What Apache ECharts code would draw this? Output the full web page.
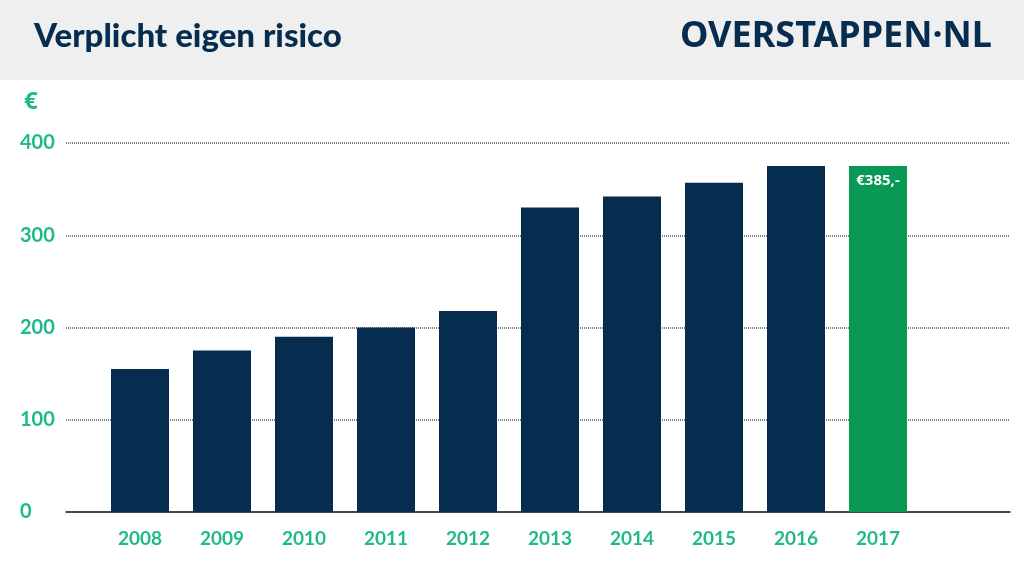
<!DOCTYPE html>
<html><head><meta charset="utf-8">
<script src="https://cdn.jsdelivr.net/npm/echarts@6/dist/echarts.min.js"></script>
<style>html,body{margin:0;padding:0;background:#fff}#c{width:1024px;height:571px}</style>
</head><body><div id="c"></div>
<script>
const years = ['2008','2009','2010','2011','2012','2013','2014','2015','2016','2017'];
const values = [155,175,190,200,218,330,342,357,375,375];
const highlightLabel = '€385,-';
const yTicks = [0,100,200,300,400];

const navy = '#062d4f', green = '#089a55', teal = '#20b98b';
const chart = echarts.init(document.getElementById('c'));
chart.setOption({
  animation:false,
  graphic:[
    {type:'rect',left:0,top:0,shape:{width:1024,height:80},style:{fill:'#efefef'},z:-1},
    {type:'text',left:34,top:20,style:{text:'Verplicht eigen risico',fill:navy,font:'900 33px Lato, "Open Sans", sans-serif'}},
    {type:'text',left:680,top:19,style:{text:'OVERSTAPPEN·NL',fill:navy,font:'bold 36px "Noto Sans", sans-serif'}},
    {type:'text',left:24,top:90,style:{text:'€',fill:teal,font:'bold 24px "Noto Sans", sans-serif'}}
  ],
  grid:[
    {left:66,right:14,top:143,bottom:59},
    {left:99,width:820,top:143,bottom:59}
  ],
  xAxis:[
    {gridIndex:0,type:'category',data:[''],axisLine:{lineStyle:{color:'#222',width:1.5}},axisTick:{show:false},axisLabel:{show:false}},
    {gridIndex:1,type:'category',data:years,axisLine:{show:false},axisTick:{show:false},
     axisLabel:{color:teal,fontSize:19,fontWeight:'bold',fontFamily:'Lato, sans-serif',margin:17}}
  ],
  yAxis:[
    {gridIndex:0,type:'value',min:0,max:400,interval:100,
     axisLabel:{color:teal,fontSize:20,fontWeight:'bold',fontFamily:'Lato, sans-serif',align:'left',margin:46,
       formatter:v=>yTicks.includes(v)?String(v):''},
     splitLine:{lineStyle:{color:'#555',type:[1,1],width:1.5}},axisLine:{show:false},axisTick:{show:false}},
    {gridIndex:1,type:'value',min:0,max:400,interval:100,show:false}
  ],
  series:[{
    type:'bar',xAxisIndex:1,yAxisIndex:1,barWidth:58,
    data:values.map((v,i)=>i===values.length-1?{value:v,itemStyle:{color:green},
      label:{show:true,position:'insideTop',offset:[0,2],formatter:highlightLabel,color:'#fff',fontWeight:'bold',fontSize:15,fontFamily:'"Open Sans", sans-serif'}}:v),
    itemStyle:{color:navy}
  }]
});
</script></body></html>
